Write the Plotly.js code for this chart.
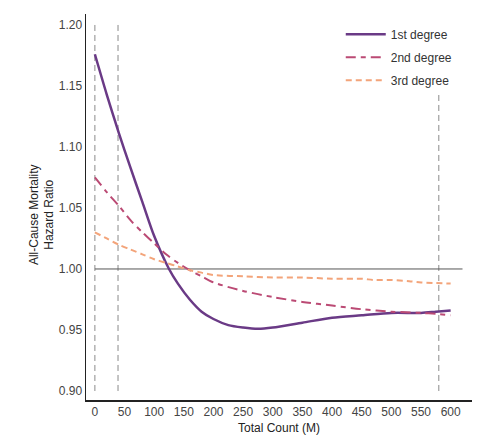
<!DOCTYPE html>
<html>
<head>
<meta charset="utf-8">
<script src="https://cdn.plot.ly/plotly-3.0.1.min.js"></script>
<style>html,body{margin:0;padding:0;background:#fff;}#chart{width:485px;height:436px;}</style>
</head>
<body>
<div id="chart"></div>
<script>
const xFirst = [0, 20, 40, 60, 80, 100, 125, 140, 160, 180, 200, 225, 250, 275, 300, 350, 400, 450, 500, 550, 575, 600];
const yFirst = [1.176, 1.143, 1.112, 1.083, 1.055, 1.027, 1.000, 0.988, 0.975, 0.965, 0.959, 0.954, 0.952, 0.951, 0.952, 0.956, 0.960, 0.962, 0.964, 0.964, 0.965, 0.966];

const xSecond = [0, 20, 40, 60, 80, 100, 120, 140, 160, 180, 200, 250, 300, 350, 400, 450, 500, 550, 580, 600];
const ySecond = [1.075, 1.063, 1.052, 1.040, 1.030, 1.021, 1.012, 1.005, 0.999, 0.994, 0.989, 0.982, 0.977, 0.973, 0.970, 0.967, 0.965, 0.964, 0.963, 0.962];

const xThird = [0, 20, 40, 60, 80, 100, 120, 140, 160, 180, 200, 250, 300, 350, 400, 450, 470, 500, 530, 550, 600];
const yThird = [1.030, 1.025, 1.020, 1.016, 1.012, 1.008, 1.005, 1.002, 0.999, 0.997, 0.995, 0.994, 0.993, 0.993, 0.992, 0.992, 0.991, 0.991, 0.990, 0.989, 0.988];

const seriesNames = ["1st degree", "2nd degree", "3rd degree"];
const xTicks = [0, 50, 100, 150, 200, 250, 300, 350, 400, 450, 500, 550, 600];
const yTicks = [0.90, 0.95, 1.00, 1.05, 1.10, 1.15, 1.20];
const vLines = [0, 39, 580];
const refLevel = 1.00;
const refLineEnd = 620;

const traces = [
  {x: xFirst, y: yFirst, name: seriesNames[0], mode: "lines", legendgroup: "a",
   line: {color: "#6a3a86", width: 2.5, shape: "spline", smoothing: 0.8}},
  {x: xSecond, y: ySecond, name: seriesNames[1], mode: "lines", legendgroup: "b",
   line: {color: "#bb4a74", width: 2, dash: "10px,5px,5px,5px", shape: "spline", smoothing: 0.8}},
  {x: xThird, y: yThird, name: seriesNames[2], mode: "lines", legendgroup: "c",
   line: {color: "#f3a47a", width: 2, dash: "6px,4px", shape: "spline", smoothing: 0.8}}
];

const shapes = vLines.map(v => ({
  type: "line", xref: "x", yref: "y", x0: v, x1: v, y0: 0.90, y1: 1.20,
  line: {color: "#8a8a8a", width: 1, dash: "6px,4px"}, layer: "below"
}));
shapes.push({type: "line", xref: "x", yref: "y", x0: 0, x1: refLineEnd, y0: refLevel, y1: refLevel,
  line: {color: "#555", width: 1}, layer: "below"});

const layout = {
  width: 485, height: 436,
  margin: {l: 86, r: 13, t: 14, b: 36},
  paper_bgcolor: "#fff", plot_bgcolor: "#fff",
  font: {family: "Liberation Sans, Arial, sans-serif", size: 12, color: "#333"},
  showlegend: true,
  legend: {x: 0.66, y: 0.985, xanchor: "left", yanchor: "top", bgcolor: "#fff", itemwidth: 40,
    traceorder: "grouped", tracegroupgap: 4, font: {size: 12, color: "#333"}},
  xaxis: {range: [-15, 636], tickvals: xTicks, ticktext: xTicks.map(String), showgrid: false, zeroline: false,
    showline: true, linecolor: "#222", linewidth: 1.5, ticks: "", tickfont: {size: 12, color: "#444"},
    title: {text: "Total Count (M)", font: {size: 12, color: "#222"}, standoff: 5}, automargin: false},
  yaxis: {range: [0.8926, 1.209], tickvals: yTicks, ticktext: yTicks.map(v => v.toFixed(2)), showgrid: false, zeroline: false,
    showline: true, linecolor: "#222", linewidth: 1.5, ticks: "", tickfont: {size: 12, color: "#444"}, automargin: false},
  annotations: [{text: "All-Cause Mortality<br>Hazard Ratio", xref: "paper", yref: "paper", x: 0, y: 0.479,
    xanchor: "center", yanchor: "middle", xshift: -44, textangle: -90, showarrow: false,
    font: {size: 12, color: "#222"}}],
  shapes: shapes
};

Plotly.newPlot("chart", traces, layout, {displayModeBar: false, staticPlot: true});
</script>
</body>
</html>
